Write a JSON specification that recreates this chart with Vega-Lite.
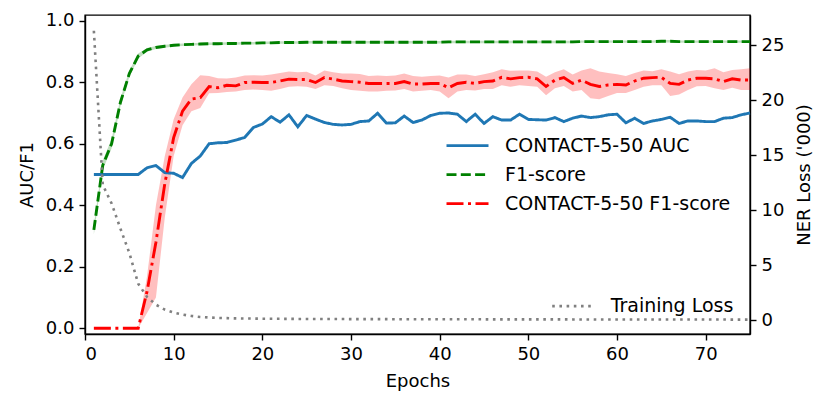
{
  "$schema": "https://vega.github.io/schema/vega-lite/v6.json",
  "width": 665,
  "height": 319,
  "autosize": {"type": "none"},
  "padding": {"left": 85, "top": 15, "right": 80, "bottom": 74},
  "background": "white",
  "config": {
    "font": "DejaVu Sans",
    "view": {"stroke": "black", "strokeWidth": 1.4},
    "axis": {
      "grid": false,
      "labelFont": "DejaVu Sans",
      "titleFont": "DejaVu Sans",
      "labelFontSize": 18,
      "titleFontSize": 18,
      "titleFontWeight": "normal",
      "labelColor": "black",
      "titleColor": "black",
      "tickColor": "black",
      "domainColor": "black",
      "tickSize": 6,
      "tickWidth": 1.4,
      "domainWidth": 1.4
    },
    "legend": {
      "labelFont": "DejaVu Sans",
      "labelFontSize": 19,
      "labelColor": "black",
      "labelLimit": 400,
      "symbolSize": 1764,
      "symbolStrokeWidth": 2.8,
      "clipHeight": 28.3,
      "rowPadding": 0,
      "labelOffset": 15,
      "padding": 0
    }
  },
  "data": {
    "values": [
      {"e": 1, "auc": 0.5, "f1": 0.32, "fl": 0.305, "fh": 0.335, "c": 0, "cl": 0, "ch": 0, "loss": 26.3},
      {"e": 2, "auc": 0.5, "f1": 0.53, "fl": 0.515, "fh": 0.545, "c": 0, "cl": 0, "ch": 0, "loss": 12.3},
      {"e": 3, "auc": 0.5, "f1": 0.6, "fl": 0.585, "fh": 0.615, "c": 0, "cl": 0, "ch": 0, "loss": 10.6},
      {"e": 4, "auc": 0.5, "f1": 0.735, "fl": 0.722, "fh": 0.748, "c": 0, "cl": 0, "ch": 0, "loss": 8.3},
      {"e": 5, "auc": 0.5, "f1": 0.828, "fl": 0.818, "fh": 0.838, "c": 0, "cl": 0, "ch": 0, "loss": 6.1},
      {"e": 6, "auc": 0.5, "f1": 0.885, "fl": 0.877, "fh": 0.893, "c": 0, "cl": 0, "ch": 0, "loss": 3.3},
      {"e": 7, "auc": 0.522, "f1": 0.905, "fl": 0.899, "fh": 0.911, "c": 0.12, "cl": 0.05, "ch": 0.17, "loss": 2.1},
      {"e": 8, "auc": 0.529, "f1": 0.913, "fl": 0.908, "fh": 0.918, "c": 0.28, "cl": 0.1, "ch": 0.4, "loss": 1.4},
      {"e": 9, "auc": 0.506, "f1": 0.917, "fl": 0.912, "fh": 0.922, "c": 0.47, "cl": 0.36, "ch": 0.56, "loss": 0.95},
      {"e": 10, "auc": 0.504, "f1": 0.92, "fl": 0.916, "fh": 0.924, "c": 0.62, "cl": 0.56, "ch": 0.68, "loss": 0.68},
      {"e": 11, "auc": 0.49, "f1": 0.922, "fl": 0.918, "fh": 0.926, "c": 0.706, "cl": 0.66, "ch": 0.75, "loss": 0.5},
      {"e": 12, "auc": 0.536, "f1": 0.923, "fl": 0.919, "fh": 0.927, "c": 0.745, "cl": 0.706, "ch": 0.793, "loss": 0.37},
      {"e": 13, "auc": 0.56, "f1": 0.924, "fl": 0.92, "fh": 0.928, "c": 0.75, "cl": 0.716, "ch": 0.823, "loss": 0.28},
      {"e": 14, "auc": 0.6, "f1": 0.925, "fl": 0.921, "fh": 0.929, "c": 0.786, "cl": 0.764, "ch": 0.82, "loss": 0.23},
      {"e": 15, "auc": 0.603, "f1": 0.925, "fl": 0.921, "fh": 0.929, "c": 0.782, "cl": 0.765, "ch": 0.813, "loss": 0.19},
      {"e": 16, "auc": 0.604, "f1": 0.926, "fl": 0.922, "fh": 0.93, "c": 0.79, "cl": 0.768, "ch": 0.812, "loss": 0.17},
      {"e": 17, "auc": 0.612, "f1": 0.926, "fl": 0.922, "fh": 0.93, "c": 0.788, "cl": 0.77, "ch": 0.815, "loss": 0.15},
      {"e": 18, "auc": 0.62, "f1": 0.927, "fl": 0.923, "fh": 0.931, "c": 0.799, "cl": 0.775, "ch": 0.822, "loss": 0.14},
      {"e": 19, "auc": 0.653, "f1": 0.927, "fl": 0.923, "fh": 0.931, "c": 0.8, "cl": 0.776, "ch": 0.823, "loss": 0.13},
      {"e": 20, "auc": 0.664, "f1": 0.928, "fl": 0.924, "fh": 0.932, "c": 0.799, "cl": 0.775, "ch": 0.822, "loss": 0.12},
      {"e": 21, "auc": 0.688, "f1": 0.928, "fl": 0.924, "fh": 0.932, "c": 0.799, "cl": 0.772, "ch": 0.825, "loss": 0.115},
      {"e": 22, "auc": 0.67, "f1": 0.929, "fl": 0.925, "fh": 0.933, "c": 0.804, "cl": 0.778, "ch": 0.83, "loss": 0.11},
      {"e": 23, "auc": 0.694, "f1": 0.929, "fl": 0.925, "fh": 0.933, "c": 0.81, "cl": 0.785, "ch": 0.835, "loss": 0.105},
      {"e": 24, "auc": 0.655, "f1": 0.929, "fl": 0.925, "fh": 0.933, "c": 0.809, "cl": 0.787, "ch": 0.832, "loss": 0.1},
      {"e": 25, "auc": 0.692, "f1": 0.93, "fl": 0.926, "fh": 0.934, "c": 0.809, "cl": 0.785, "ch": 0.834, "loss": 0.1},
      {"e": 26, "auc": 0.68, "f1": 0.93, "fl": 0.926, "fh": 0.934, "c": 0.799, "cl": 0.778, "ch": 0.822, "loss": 0.095},
      {"e": 27, "auc": 0.669, "f1": 0.93, "fl": 0.926, "fh": 0.934, "c": 0.815, "cl": 0.79, "ch": 0.838, "loss": 0.093},
      {"e": 28, "auc": 0.663, "f1": 0.93, "fl": 0.926, "fh": 0.934, "c": 0.81, "cl": 0.788, "ch": 0.832, "loss": 0.09},
      {"e": 29, "auc": 0.661, "f1": 0.93, "fl": 0.926, "fh": 0.934, "c": 0.804, "cl": 0.78, "ch": 0.828, "loss": 0.088},
      {"e": 30, "auc": 0.663, "f1": 0.93, "fl": 0.926, "fh": 0.934, "c": 0.802, "cl": 0.775, "ch": 0.828, "loss": 0.085},
      {"e": 31, "auc": 0.672, "f1": 0.93, "fl": 0.926, "fh": 0.934, "c": 0.8, "cl": 0.772, "ch": 0.827, "loss": 0.083},
      {"e": 32, "auc": 0.674, "f1": 0.93, "fl": 0.926, "fh": 0.934, "c": 0.796, "cl": 0.77, "ch": 0.82, "loss": 0.081},
      {"e": 33, "auc": 0.699, "f1": 0.93, "fl": 0.926, "fh": 0.934, "c": 0.796, "cl": 0.77, "ch": 0.822, "loss": 0.08},
      {"e": 34, "auc": 0.667, "f1": 0.93, "fl": 0.926, "fh": 0.934, "c": 0.796, "cl": 0.772, "ch": 0.82, "loss": 0.078},
      {"e": 35, "auc": 0.668, "f1": 0.93, "fl": 0.926, "fh": 0.934, "c": 0.796, "cl": 0.773, "ch": 0.822, "loss": 0.077},
      {"e": 36, "auc": 0.69, "f1": 0.93, "fl": 0.926, "fh": 0.934, "c": 0.802, "cl": 0.778, "ch": 0.828, "loss": 0.075},
      {"e": 37, "auc": 0.669, "f1": 0.93, "fl": 0.926, "fh": 0.934, "c": 0.794, "cl": 0.77, "ch": 0.82, "loss": 0.074},
      {"e": 38, "auc": 0.677, "f1": 0.93, "fl": 0.926, "fh": 0.934, "c": 0.794, "cl": 0.772, "ch": 0.818, "loss": 0.072},
      {"e": 39, "auc": 0.692, "f1": 0.93, "fl": 0.926, "fh": 0.934, "c": 0.796, "cl": 0.775, "ch": 0.82, "loss": 0.071},
      {"e": 40, "auc": 0.699, "f1": 0.93, "fl": 0.926, "fh": 0.934, "c": 0.796, "cl": 0.77, "ch": 0.822, "loss": 0.07},
      {"e": 41, "auc": 0.7, "f1": 0.931, "fl": 0.927, "fh": 0.935, "c": 0.782, "cl": 0.748, "ch": 0.815, "loss": 0.068},
      {"e": 42, "auc": 0.696, "f1": 0.931, "fl": 0.927, "fh": 0.935, "c": 0.796, "cl": 0.77, "ch": 0.825, "loss": 0.067},
      {"e": 43, "auc": 0.672, "f1": 0.931, "fl": 0.927, "fh": 0.935, "c": 0.8, "cl": 0.775, "ch": 0.825, "loss": 0.066},
      {"e": 44, "auc": 0.696, "f1": 0.931, "fl": 0.927, "fh": 0.935, "c": 0.796, "cl": 0.773, "ch": 0.82, "loss": 0.065},
      {"e": 45, "auc": 0.666, "f1": 0.931, "fl": 0.927, "fh": 0.935, "c": 0.802, "cl": 0.778, "ch": 0.826, "loss": 0.064},
      {"e": 46, "auc": 0.688, "f1": 0.931, "fl": 0.927, "fh": 0.935, "c": 0.804, "cl": 0.778, "ch": 0.832, "loss": 0.063},
      {"e": 47, "auc": 0.677, "f1": 0.931, "fl": 0.927, "fh": 0.935, "c": 0.816, "cl": 0.79, "ch": 0.842, "loss": 0.062},
      {"e": 48, "auc": 0.677, "f1": 0.931, "fl": 0.927, "fh": 0.935, "c": 0.811, "cl": 0.785, "ch": 0.837, "loss": 0.061},
      {"e": 49, "auc": 0.696, "f1": 0.931, "fl": 0.927, "fh": 0.935, "c": 0.815, "cl": 0.79, "ch": 0.838, "loss": 0.06},
      {"e": 50, "auc": 0.679, "f1": 0.931, "fl": 0.927, "fh": 0.935, "c": 0.816, "cl": 0.788, "ch": 0.838, "loss": 0.06},
      {"e": 51, "auc": 0.678, "f1": 0.931, "fl": 0.927, "fh": 0.935, "c": 0.811, "cl": 0.785, "ch": 0.835, "loss": 0.059},
      {"e": 52, "auc": 0.677, "f1": 0.931, "fl": 0.927, "fh": 0.935, "c": 0.786, "cl": 0.758, "ch": 0.818, "loss": 0.058},
      {"e": 53, "auc": 0.685, "f1": 0.931, "fl": 0.927, "fh": 0.935, "c": 0.807, "cl": 0.78, "ch": 0.832, "loss": 0.057},
      {"e": 54, "auc": 0.672, "f1": 0.931, "fl": 0.927, "fh": 0.935, "c": 0.815, "cl": 0.788, "ch": 0.842, "loss": 0.056},
      {"e": 55, "auc": 0.683, "f1": 0.931, "fl": 0.927, "fh": 0.935, "c": 0.796, "cl": 0.77, "ch": 0.825, "loss": 0.055},
      {"e": 56, "auc": 0.69, "f1": 0.932, "fl": 0.928, "fh": 0.936, "c": 0.807, "cl": 0.775, "ch": 0.838, "loss": 0.054},
      {"e": 57, "auc": 0.685, "f1": 0.932, "fl": 0.928, "fh": 0.936, "c": 0.793, "cl": 0.748, "ch": 0.845, "loss": 0.053},
      {"e": 58, "auc": 0.688, "f1": 0.932, "fl": 0.928, "fh": 0.936, "c": 0.786, "cl": 0.745, "ch": 0.835, "loss": 0.052},
      {"e": 59, "auc": 0.694, "f1": 0.932, "fl": 0.928, "fh": 0.936, "c": 0.791, "cl": 0.755, "ch": 0.83, "loss": 0.051},
      {"e": 60, "auc": 0.696, "f1": 0.932, "fl": 0.928, "fh": 0.936, "c": 0.793, "cl": 0.765, "ch": 0.826, "loss": 0.05},
      {"e": 61, "auc": 0.668, "f1": 0.932, "fl": 0.928, "fh": 0.936, "c": 0.791, "cl": 0.765, "ch": 0.82, "loss": 0.05},
      {"e": 62, "auc": 0.683, "f1": 0.932, "fl": 0.928, "fh": 0.936, "c": 0.804, "cl": 0.775, "ch": 0.83, "loss": 0.049},
      {"e": 63, "auc": 0.666, "f1": 0.932, "fl": 0.928, "fh": 0.936, "c": 0.813, "cl": 0.785, "ch": 0.838, "loss": 0.048},
      {"e": 64, "auc": 0.674, "f1": 0.932, "fl": 0.928, "fh": 0.936, "c": 0.815, "cl": 0.79, "ch": 0.836, "loss": 0.047},
      {"e": 65, "auc": 0.679, "f1": 0.933, "fl": 0.929, "fh": 0.937, "c": 0.816, "cl": 0.79, "ch": 0.842, "loss": 0.046},
      {"e": 66, "auc": 0.686, "f1": 0.933, "fl": 0.929, "fh": 0.937, "c": 0.796, "cl": 0.755, "ch": 0.835, "loss": 0.046},
      {"e": 67, "auc": 0.666, "f1": 0.932, "fl": 0.928, "fh": 0.936, "c": 0.793, "cl": 0.76, "ch": 0.826, "loss": 0.045},
      {"e": 68, "auc": 0.674, "f1": 0.932, "fl": 0.928, "fh": 0.936, "c": 0.807, "cl": 0.775, "ch": 0.835, "loss": 0.044},
      {"e": 69, "auc": 0.674, "f1": 0.932, "fl": 0.928, "fh": 0.936, "c": 0.813, "cl": 0.787, "ch": 0.84, "loss": 0.044},
      {"e": 70, "auc": 0.672, "f1": 0.932, "fl": 0.928, "fh": 0.936, "c": 0.813, "cl": 0.788, "ch": 0.838, "loss": 0.043},
      {"e": 71, "auc": 0.672, "f1": 0.932, "fl": 0.928, "fh": 0.936, "c": 0.811, "cl": 0.78, "ch": 0.845, "loss": 0.042},
      {"e": 72, "auc": 0.683, "f1": 0.932, "fl": 0.928, "fh": 0.936, "c": 0.802, "cl": 0.775, "ch": 0.832, "loss": 0.042},
      {"e": 73, "auc": 0.685, "f1": 0.932, "fl": 0.928, "fh": 0.936, "c": 0.811, "cl": 0.782, "ch": 0.84, "loss": 0.041},
      {"e": 74, "auc": 0.694, "f1": 0.932, "fl": 0.928, "fh": 0.936, "c": 0.807, "cl": 0.775, "ch": 0.842, "loss": 0.04},
      {"e": 75, "auc": 0.7, "f1": 0.932, "fl": 0.928, "fh": 0.936, "c": 0.807, "cl": 0.775, "ch": 0.845, "loss": 0.04}
    ]
  },
  "encoding": {
    "x": {
      "field": "e",
      "type": "quantitative",
      "title": "Epochs",
      "scale": {"domain": [0, 75], "nice": false, "zero": false},
      "axis": {"values": [0, 10, 20, 30, 40, 50, 60, 70], "labelPadding": 5, "titlePadding": 9}
    }
  },
  "layer": [
    {
      "layer": [
        {
          "mark": {"type": "area", "color": "#ff0000", "opacity": 0.25},
          "encoding": {
            "y": {"field": "cl", "type": "quantitative", "title": "AUC/F1",
                  "scale": {"domain": [-0.0185, 1.0185], "nice": false, "zero": false},
                  "axis": {"values": [0, 0.2, 0.4, 0.6, 0.8, 1.0], "format": ".1f", "labelPadding": 5, "titlePadding": 9}},
            "y2": {"field": "ch"}
          }
        },
        {
          "mark": {"type": "area", "color": "#008000", "opacity": 0.25},
          "encoding": {
            "y": {"field": "fl", "type": "quantitative", "title": "AUC/F1"},
            "y2": {"field": "fh"}
          }
        },
        {
          "transform": [{"fold": ["auc", "f1", "c"], "as": ["series", "value"]}],
          "mark": {"type": "line", "strokeWidth": 2.9, "strokeCap": "butt"},
          "encoding": {
            "y": {"field": "value", "type": "quantitative", "title": "AUC/F1"},
            "color": {
              "field": "series",
              "type": "nominal",
              "scale": {"domain": ["auc", "f1", "c"], "range": ["#1f77b4", "#008000", "#ff0000"]},
              "legend": {
                "title": null,
                "orient": "none",
                "legendX": 360,
                "legendY": 116.5,
                "labelExpr": "{'auc': 'CONTACT-5-50 AUC', 'f1': 'F1-score', 'c': 'CONTACT-5-50 F1-score'}[datum.label]"
              }
            },
            "strokeDash": {
              "field": "series",
              "type": "nominal",
              "scale": {"domain": ["auc", "f1", "c"], "range": [[1, 0], [10, 4.3], [17, 4.5, 3, 4.5]]},
              "legend": {
                "title": null,
                "orient": "none",
                "legendX": 360,
                "legendY": 116.5,
                "labelExpr": "{'auc': 'CONTACT-5-50 AUC', 'f1': 'F1-score', 'c': 'CONTACT-5-50 F1-score'}[datum.label]"
              }
            }
          }
        }
      ]
    },
    {
      "mark": {"type": "line", "strokeWidth": 2.6, "strokeCap": "butt"},
      "encoding": {
        "y": {
          "field": "loss",
          "type": "quantitative",
          "title": "NER Loss ('000)",
          "scale": {"domain": [-1.27, 27.73], "nice": false, "zero": false},
          "axis": {"orient": "right", "values": [0, 5, 10, 15, 20, 25], "labelPadding": 5, "titlePadding": 12, "titleAngle": 270, "titleBaseline": "top"}
        },
        "color": {
          "datum": "Training Loss",
          "type": "nominal",
          "scale": {"range": ["#808080"]},
          "legend": {"title": null, "orient": "none", "legendX": 465.7, "legendY": 276.9}
        },
        "strokeDash": {
          "datum": "Training Loss",
          "type": "nominal",
          "scale": {"range": [[2.6, 4.6]]},
          "legend": {"title": null, "orient": "none", "legendX": 465.7, "legendY": 276.9}
        }
      }
    }
  ],
  "resolve": {"scale": {"y": "independent", "color": "independent", "strokeDash": "independent"}}
}
